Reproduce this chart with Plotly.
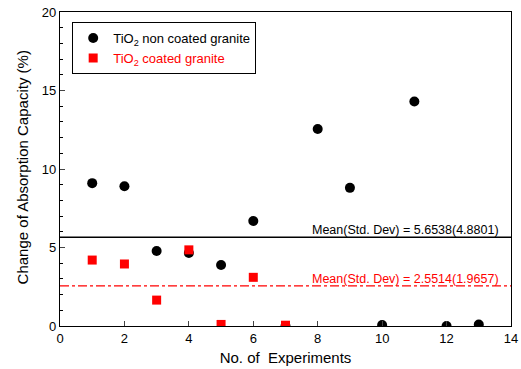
import plotly.graph_objects as go

experiments_non = [1, 2, 3, 4, 5, 6, 7, 8, 9, 10, 11, 12, 13]
values_non = [9.1, 8.9, 4.78, 4.65, 3.88, 6.69, 0.0, 12.55, 8.8, 0.06, 14.3, 0.0, 0.1]
experiments_coat = [1, 2, 3, 4, 5, 6, 7]
values_coat = [4.2, 3.95, 1.65, 4.85, 0.1, 3.1, 0.05]
mean_non = 5.6538
std_non = 4.8801
mean_coat = 2.5514
std_coat = 1.9657
x_ticks = [0, 2, 4, 6, 8, 10, 12, 14]
y_ticks = [0, 5, 10, 15, 20]

font = "Liberation Sans, Arial, sans-serif"

fig = go.Figure()
fig.add_trace(go.Scatter(
    x=experiments_non, y=values_non, mode="markers",
    name="TiO<sub>2</sub> non coated granite",
    marker=dict(symbol="circle", size=10, color="black"),
))
fig.add_trace(go.Scatter(
    x=experiments_coat, y=values_coat, mode="markers",
    name="<span style='color:red'>TiO<sub>2</sub> coated granite</span>",
    marker=dict(symbol="square", size=9, color="red"),
))

fig.add_shape(type="line", xref="x", yref="y", x0=0, x1=14, y0=mean_non, y1=mean_non,
              line=dict(color="black", width=1.3))
fig.add_shape(type="line", xref="x", yref="y", x0=0, x1=14, y0=mean_coat, y1=mean_coat,
              line=dict(color="red", width=1.3, dash="dashdot"))
fig.add_annotation(x=13.7, y=mean_non, xref="x", yref="y", xanchor="right", yanchor="bottom",
                   text=f"Mean(Std. Dev) = {mean_non:.4f}({std_non:.4f})", showarrow=False,
                   font=dict(family=font, size=12.5, color="black"), yshift=-2)
fig.add_annotation(x=13.7, y=mean_coat, xref="x", yref="y", xanchor="right", yanchor="bottom",
                   text=f"Mean(Std. Dev) = {mean_coat:.4f}({std_coat:.4f})", showarrow=False,
                   font=dict(family=font, size=12.5, color="red"), yshift=-2)
fig.add_annotation(x=-0.0843, y=0.505, xref="paper", yref="paper", xanchor="center", yanchor="middle",
                   text="Change of Absorption Capacity (%)", textangle=-90, showarrow=False,
                   font=dict(family=font, size=15, color="black"))

fig.update_layout(
    width=521, height=369,
    margin=dict(l=60, r=10, t=12, b=43, autoexpand=False),
    plot_bgcolor="white", paper_bgcolor="white",
    font=dict(family=font, size=13, color="black"),
    showlegend=True,
    legend=dict(x=0.027, y=0.968, xanchor="left", yanchor="top",
                bordercolor="black", borderwidth=1, bgcolor="white",
                font=dict(family=font, size=13, color="black"),
                itemwidth=30, tracegroupgap=0),
    xaxis=dict(range=[0, 14], tickvals=x_ticks, ticks="inside", ticklen=5,
               showline=True, linecolor="black", linewidth=1.3, mirror=True,
               showgrid=False, zeroline=False, automargin=False,
               tickfont=dict(size=13),
               title=dict(text="No. of  Experiments", font=dict(size=15), standoff=7)),
    yaxis=dict(range=[0, 20], tickvals=y_ticks, ticks="inside", ticklen=5,
               showline=True, linecolor="black", linewidth=1.3, mirror=True,
               showgrid=False, zeroline=False, automargin=False,
               tickfont=dict(size=13),
               minor=dict(dtick=1, ticks="inside", ticklen=3, tickcolor="black")),
)

fig.write_html("out.html", config={"displayModeBar": False},
               post_script="document.body.style.margin='0';document.body.style.padding='0';")
